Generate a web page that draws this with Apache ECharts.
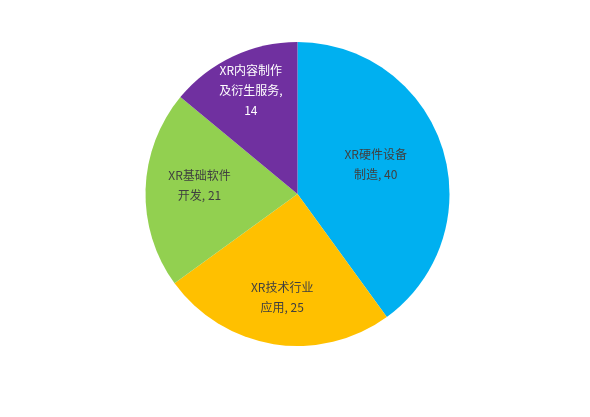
<!DOCTYPE html>
<html>
<head>
<meta charset="utf-8">
<script src="https://cdn.jsdelivr.net/npm/echarts@6/dist/echarts.min.js"></script>
<style>
  html, body { margin: 0; padding: 0; background: #fff; }
  #chart { width: 590px; height: 417px; }
</style>
</head>
<body>
<div id="chart"></div>
<script>
// 各类别及数值
const categories = ['XR硬件设备\n制造', 'XR技术行业\n应用', 'XR基础软件\n开发', 'XR内容制作\n及衍生服务'];
const values = [40, 25, 21, 14];

const colors = ['#00B0F0', '#FFC000', '#92D050', '#7030A0'];
const labelColors = ['#404040', '#404040', '#404040', '#ffffff'];
// 标签相对默认位置的偏移（仿 Excel 的最佳位置）
const labelOffsets = [[3, -5], [-3, 25], [-19, -6], [-13, -32]];
// 紫色那块的数值换行显示
const labelSeps = [', ', ', ', ', ', ',\n'];

const chart = echarts.init(document.getElementById('chart'));

const option = {
  animation: false,
  series: [
    {
      type: 'pie',
      center: [297.5, 194],
      radius: 152,
      startAngle: 90,
      clockwise: true,
      label: {
        show: true,
        position: 'inside',
        fontFamily: 'Noto Sans CJK SC',
        fontSize: 12,
        lineHeight: 20,
        formatter: (p) => p.name + labelSeps[p.dataIndex] + p.value,
      },
      labelLine: { show: false },
      emphasis: { disabled: true },
      data: categories.map((name, i) => ({
        name: name,
        value: values[i],
        itemStyle: { color: colors[i] },
        label: { color: labelColors[i], offset: labelOffsets[i] },
      })),
    },
  ],
};

chart.setOption(option);
</script>
</body>
</html>
